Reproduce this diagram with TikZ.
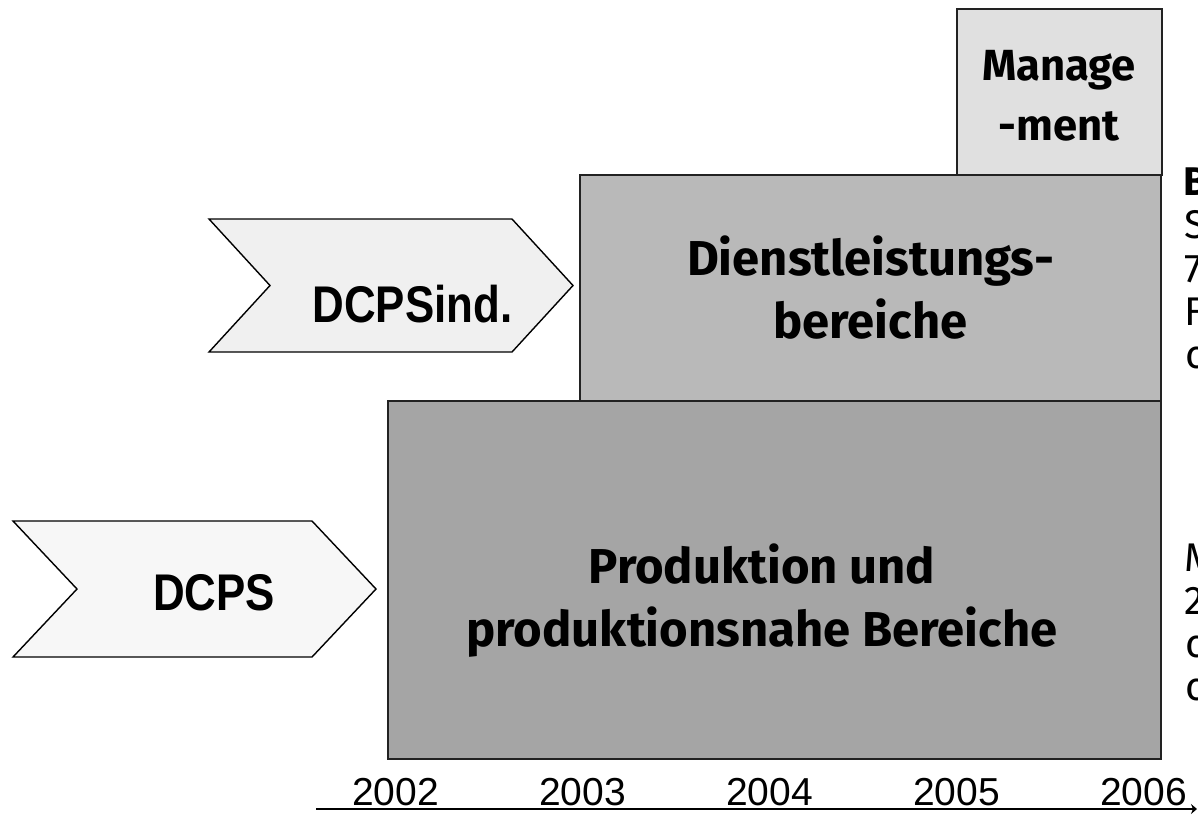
\documentclass[tikz,border=0pt]{standalone}
\usepackage{fontspec}
\setmainfont{Fira Sans}
\newfontfamily\arrowfont[FakeStretch=0.85]{Liberation Sans}
\newfontfamily\yearfont{Liberation Sans}
\usetikzlibrary{arrows.meta}
\definecolor{mgmtfill}{HTML}{E0E0E0}
\definecolor{dienstfill}{HTML}{B9B9B9}
\definecolor{prodfill}{HTML}{A5A5A5}
\definecolor{indfill}{HTML}{F0F0F0}
\definecolor{dcpsfill}{HTML}{F7F7F7}
\definecolor{edge}{HTML}{222222}
\begin{document}
\begin{tikzpicture}[x=0.5pt,y=-0.5pt,
  blockbox/.style={draw=edge,line width=0.8pt},
  chevron/.style={draw=black,line width=0.7pt,line join=miter},
  bigtext/.style={align=center,anchor=base,inner sep=0pt,font=\fontsize{24.5}{31.5}\selectfont\bfseries},
  mgmttext/.style={align=center,anchor=base,inner sep=0pt,font=\fontsize{21.8}{30}\selectfont\bfseries},
  arrowtext/.style={anchor=base,inner sep=0pt,font=\arrowfont\fontsize{25.8}{30}\selectfont\bfseries},
  yeartext/.style={anchor=base,inner sep=0pt,font=\yearfont\fontsize{19.5}{22}\selectfont},
  cuttext/.style={anchor=base west,inner sep=0pt,font=\fontsize{20}{24}\selectfont},
  axisline/.style={line width=1pt,-{Stealth[length=3pt,width=5pt]}}]
\useasboundingbox (0,0) rectangle (1198,814);
% blocks
\draw[blockbox,fill=prodfill] (388,401) rectangle (1161,759);
\draw[blockbox,fill=dienstfill] (580,175) rectangle (1161,401);
\draw[blockbox,fill=mgmtfill] (957,9) rectangle (1162,175);
\node[bigtext] (prod) at (762,646) {Produktion und\\produktionsnahe Bereiche};
\node[bigtext] (dienst) at (870.5,338) {Dienstleistungs-\\bereiche};
\node[mgmttext] (mgmt) at (1059,140) {Manage\\-ment};
% chevrons
\draw[chevron,fill=indfill] (209,219) -- (512,219) -- (573,285.5) -- (512,352) -- (209,352) -- (270,285.5) -- cycle;
\draw[chevron,fill=dcpsfill] (13,521) -- (312,521) -- (376,589) -- (312,657) -- (13,657) -- (77,589) -- cycle;
\node[arrowtext] (ind) at (412.5,322) {DCPSind.};
\node[arrowtext] (dcps) at (214,610) {DCPS};
% axis
\coordinate (axS) at (316,809);
\coordinate (axE) at (1197,809);
\draw[axisline] (axS) -- (axE);
\node[yeartext] (y2) at (395.5,805) {2002};
\node[yeartext] (y3) at (582.5,805) {2003};
\node[yeartext] (y4) at (769.5,805) {2004};
\node[yeartext] (y5) at (956.5,805) {2005};
\node[yeartext] (y6) at (1143.5,805) {2006};
% cut-off text at right edge
\node[cuttext,font=\fontsize{20}{24}\selectfont\bfseries] (r1) at (1183,195) {B};
\node[cuttext] (r2) at (1184,238) {S};
\node[cuttext] (r3) at (1184,282) {7};
\node[cuttext] (r4) at (1184,325) {F};
\node[cuttext] (r5) at (1185,368) {c};
\node[cuttext] (r6) at (1184,571) {M};
\node[cuttext] (r7) at (1184,614) {2};
\node[cuttext] (r8) at (1185,657) {c};
\node[cuttext] (r9) at (1185,700) {c};
\end{tikzpicture}
\end{document}
